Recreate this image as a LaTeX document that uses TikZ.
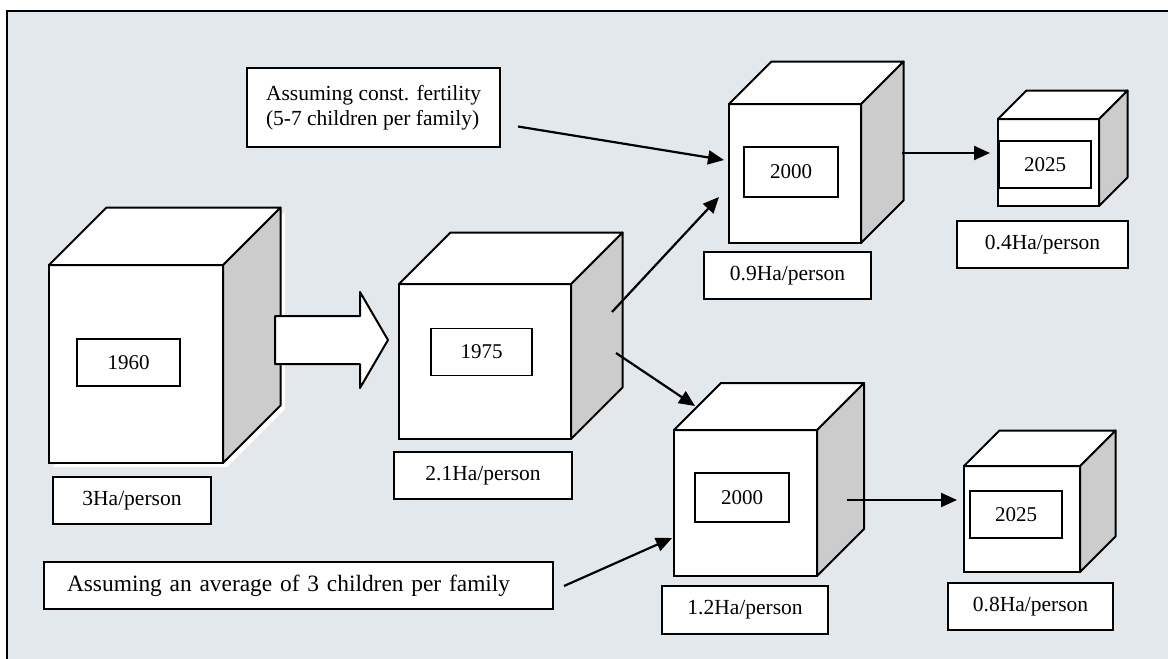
\documentclass[tikz,border=0pt]{standalone}
\usepackage{fontspec}
\setmainfont{Liberation Serif}
\usetikzlibrary{positioning,arrows.meta}
\definecolor{panelbg}{RGB}{227,232,237}
\definecolor{sidegray}{RGB}{204,204,204}

\newcommand{\datacube}[6]{%
	\node[face, minimum width=#4, minimum height=#5] (#1) at (#2,#3) {};
	\draw[sideface] (#1.north east) -- ++(#6,-#6) -- ++(0,#5) -- (#1.south east) -- cycle;
	\draw[topface] (#1.north west) -- ++(#6,-#6) -- ++(#4,0) -- (#1.north east) -- cycle;
}

\begin{document}
\begin{tikzpicture}[x=1pt,y=-1pt,
		face/.style={draw, fill=white, line width=2pt, inner sep=0pt, outer sep=0pt},
		sideface/.style={draw, fill=sidegray, line width=2pt, line join=round},
		topface/.style={draw, fill=white, line width=2pt, line join=round},
		yearbox/.style={draw, fill=white, line width=1.8pt, inner sep=0pt, minimum height=47, font=\fontsize{21}{25}\selectfont},
		areabox/.style={draw, fill=white, line width=1.8pt, inner sep=0pt, minimum height=47, font=\fontsize{21.5}{25}\selectfont},
		notebox/.style={draw, fill=white, line width=2pt, inner sep=0pt, align=left},
		arr/.style={line width=2.2pt, -{Triangle[length=16pt,width=14pt]}}]
		\useasboundingbox (0,0) rectangle (1168,659);
		\draw[line width=2.2pt, fill=panelbg] (7,11) rectangle (1190,690);
		\fill[white] (53,467) -- (227,467) -- (285,409) -- (285,212) -- (227,269) -- cycle;
		\datacube{c1960}{136}{364}{174}{198}{57.5}
		\datacube{c1975}{485}{361.5}{172}{155}{51.5}
		\datacube{c2000a}{795}{173.5}{132}{139}{42.5}
		\datacube{c2025a}{1048.5}{162.5}{101}{87}{28.5}
		\datacube{c2000b}{745.5}{503}{143}{146}{47}
		\datacube{c2025b}{1022}{519}{116}{106}{35.5}
		\node[yearbox, minimum width=103] (y1960) at (128.5,362.5) {1960};
		\node[yearbox, minimum width=101] (y1975) at (481.5,352) {1975};
		\node[yearbox, minimum width=94, minimum height=50] (y2000a) at (791,172) {2000};
		\node[yearbox, minimum width=92] (y2025a) at (1045,164.5) {2025};
		\node[yearbox, minimum width=94, minimum height=49] (y2000b) at (742,497.5) {2000};
		\node[yearbox, minimum width=92] (y2025b) at (1016,514.5) {2025};
		\node[areabox, minimum width=158] (ha1960) at (132,500.5) {3Ha/person};
		\node[areabox, minimum width=178] (ha1975) at (483,475.5) {2.1Ha/person};
		\node[areabox, minimum width=167] (ha2000a) at (787.5,275.5) {0.9Ha/person};
		\node[areabox, minimum width=171] (ha2025a) at (1042.5,244.5) {0.4Ha/person};
		\node[areabox, minimum width=166, minimum height=48] (ha2000b) at (745,610) {1.2Ha/person};
		\node[areabox, minimum width=165] (ha2025b) at (1030.5,606.5) {0.8Ha/person};
		\node[notebox, font=\fontsize{21.5}{25}\selectfont, minimum width=253, minimum height=79] (fert) at (373.5,107.5) {Assuming const. fertility\\(5-7 children per family)};
		\node[notebox, font=\fontsize{23.4}{28}\selectfont, inner xsep=23pt, text width=463, minimum height=47] (avg) at (298.5,585.5) {Assuming an average of 3 children per family};
		\draw[fill=white, line width=2pt, line join=round] (275,316) -- (360,316) -- (360,292) -- (388,340) -- (360,388) -- (360,364) -- (275,364) -- cycle;
		\draw[arr] ([shift={(17,19)}]fert.east) -- ([shift={(-5,-13.5)}]c2000a.west);
		\draw[arr] ([shift={(41,-49.5)}]c1975.east) -- ([shift={(-10,23.5)}]c2000a.west);
		\draw[arr] ([shift={(45,-8.5)}]c1975.east) -- ([shift={(21,-24)}]c2000b.north west);
		\draw[arr] ([shift={(10,0.5)}]avg.east) -- ([shift={(-2,-38)}]c2000b.south west);
		\draw[arr] ([shift={(41,-20.5)}]c2000a.east) -- ([shift={(-8,-9.5)}]c2025a.west);
		\draw[arr] ([shift={(30,-3)}]c2000b.east) -- ([shift={(-7,-19)}]c2025b.west);
\end{tikzpicture}
\end{document}
